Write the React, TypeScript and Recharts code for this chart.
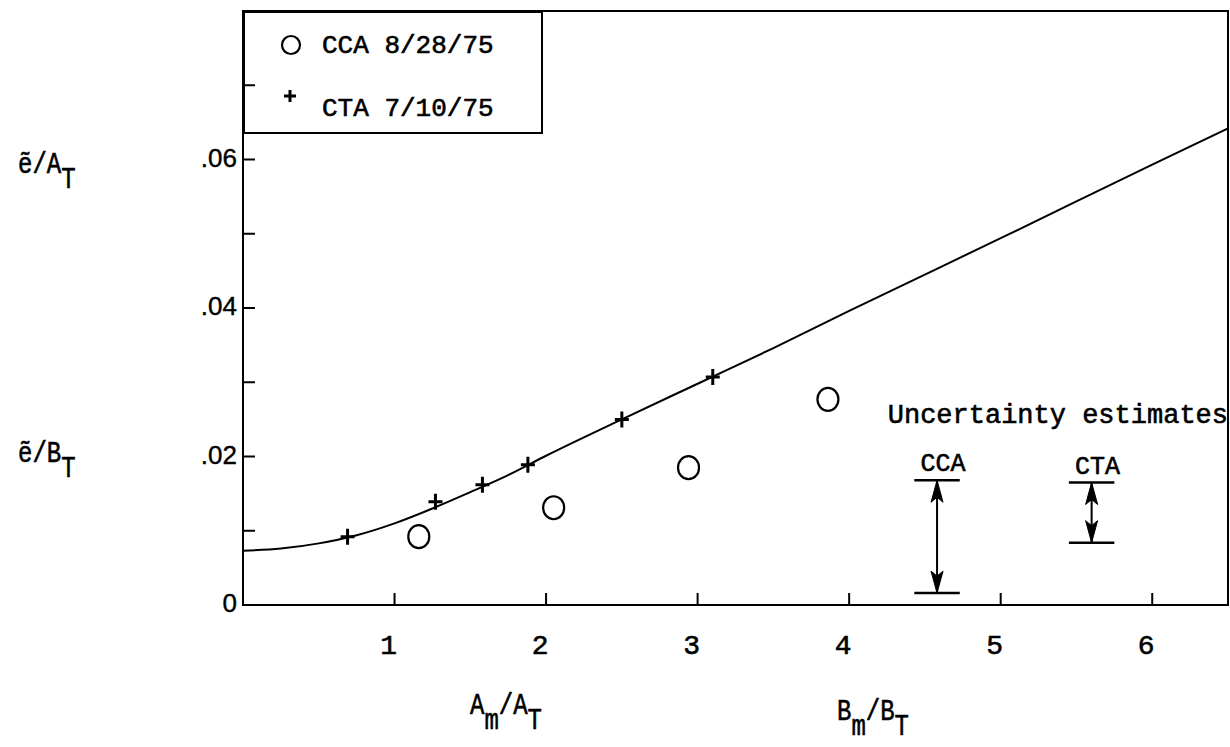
import React from 'react';
import {
  ComposedChart,
  Line,
  Scatter,
  XAxis,
  YAxis,
  ReferenceLine,
  ReferenceArea,
  ReferenceDot,
  Legend,
} from 'recharts';

// ---- data ----
const curveX = [0, 0.25, 0.5, 0.75, 1.0, 1.25, 1.5, 1.75, 2.0, 2.5, 3.0, 3.5, 4.0, 5.0, 6.0, 6.5];
const curveY = [0.0073, 0.0076, 0.0083, 0.0094, 0.011, 0.013, 0.0152, 0.0175, 0.0201, 0.025, 0.0298, 0.0346, 0.0396, 0.0494, 0.0593, 0.0642];

const ctaX = [0.69, 1.27, 1.58, 1.88, 2.5, 3.1];
const ctaY = [0.0092, 0.0139, 0.0162, 0.0189, 0.025, 0.0307];

const ccaX = [1.16, 2.05, 2.94, 3.86];
const ccaY = [0.0092, 0.0131, 0.0185, 0.0277];

const legendLabels = ['CCA 8/28/75', 'CTA 7/10/75'];

const xTicks = [1, 2, 3, 4, 5, 6];
const yTicks = [0, 0.01, 0.02, 0.03, 0.04, 0.05, 0.06, 0.07, 0.08];
const yTickLabels = ['0', '', '.02', '', '.04', '', '.06', '', ''];

// uncertainty estimates
const uncNames = ['CCA', 'CTA'];
const uncX = [4.58, 5.6];
const uncTop = [0.0168, 0.0165];
const uncBottom = [0.0016, 0.0084];
const uncHalfWidth = 0.15;
const uncTitle = 'Uncertainty estimates';

const curveData = curveX.map((x, i) => ({ x, y: curveY[i] }));
const ctaData = ctaX.map((x, i) => ({ x, y: ctaY[i] }));
const ccaData = ccaX.map((x, i) => ({ x, y: ccaY[i] }));
const arrowData = uncX.flatMap((x, i) => [
  { x, y: uncTop[i], dir: 1 },
  { x, y: uncBottom[i], dir: -1 },
]);

const MONO = '"Liberation Mono", "DejaVu Sans Mono", monospace';
const SANS = '"Liberation Sans", Arial, sans-serif';
const INK = { fill: '#000', stroke: '#000', strokeWidth: 0.6 };

const CircleShape = (p: any) => (
  <ellipse cx={p.cx} cy={p.cy} rx={10.5} ry={11.5} fill="none" stroke="#000" strokeWidth={2.2} />
);
const PlusShape = (p: any) => (
  <path
    d={`M${p.cx - 7},${p.cy} H${p.cx + 7} M${p.cx},${p.cy - 8} V${p.cy + 8}`}
    stroke="#000"
    strokeWidth={3}
    fill="none"
  />
);
const ArrowShape = (p: any) => {
  const d = p.payload.dir;
  const { cx, cy } = p;
  return (
    <path
      d={`M${cx},${cy} L${cx - 6},${cy + d * 22} L${cx},${cy + d * 17} L${cx + 6},${cy + d * 22} Z`}
      fill="#000"
      stroke="#000"
      strokeWidth={1}
    />
  );
};

const YTick = (p: any) => {
  const { x, y, index } = p;
  const label = yTickLabels[index];
  const showLine = index > 0 && index < yTicks.length - 1;
  return (
    <g>
      {showLine && <line x1={x} x2={x + 12} y1={y} y2={y} stroke="#000" strokeWidth={2} />}
      {label && (
        <text x={x - 6} y={y + 7} textAnchor="end" fontFamily={SANS} fontSize={26} {...INK} strokeWidth={0.4}>
          {label}
        </text>
      )}
    </g>
  );
};

const XTick = (p: any) => {
  const { x, y, payload } = p;
  return (
    <g>
      <line x1={x} x2={x} y1={y} y2={y - 12} stroke="#000" strokeWidth={2} />
      <text x={x - 6} y={y + 49} textAnchor="middle" fontFamily={MONO} fontSize={28} {...INK}>
        {String(payload.value)}
      </text>
    </g>
  );
};

const LegendBox = () => (
  <svg width={300} height={123} style={{ display: 'block' }}>
    <rect x={1} y={1} width={298} height={121} fill="none" stroke="#000" strokeWidth={2} />
    <circle cx={48} cy={34} r={9} fill="none" stroke="#000" strokeWidth={2.2} />
    <text x={79} y={42} fontFamily={MONO} fontSize={26} {...INK}>
      {legendLabels[0]}
    </text>
    <path d="M41,85 H53 M47,79 V91" stroke="#000" strokeWidth={3} />
    <text x={79} y={105} fontFamily={MONO} fontSize={26} {...INK}>
      {legendLabels[1]}
    </text>
  </svg>
);

const TextShape = (txt: string, size: number, anchor: string, dx = 0) => (p: any) => (
  <text x={p.cx + dx} y={p.cy} textAnchor={anchor} fontFamily={MONO} fontSize={size} {...INK}>
    {txt}
  </text>
);

const Title = ({ x, y, main1, sub1, main2, sub2 }: any) => (
  <text transform={`translate(${x},${y}) scale(0.8,1)`} fontFamily={MONO} fontSize={30} {...INK}>
    {main1}
    {sub1 ? <tspan dy={15}>{sub1}</tspan> : null}
    {main2 ? <tspan dy={sub1 ? -15 : 0}>{main2}</tspan> : null}
    {sub2 ? <tspan dy={15}>{sub2}</tspan> : null}
  </text>
);

export default function App() {
  return (
    <div style={{ position: 'absolute', left: 0, top: 0, width: 1230, height: 747, background: '#fff' }}>
      <ComposedChart
        width={1230}
        height={747}
        margin={{ top: 11, right: 2, left: 0, bottom: 0 }}
      >
        <XAxis
          type="number"
          dataKey="x"
          domain={[0, 6.5]}
          ticks={xTicks}
          height={142}
          tickSize={0}
          tickMargin={0}
          tickLine={false}
          axisLine={{ stroke: '#000', strokeWidth: 2 }}
          tick={<XTick />}
          allowDataOverflow
        />
        <YAxis
          type="number"
          dataKey="y"
          domain={[0, 0.08]}
          ticks={yTicks}
          width={243}
          tickSize={0}
          tickMargin={0}
          tickLine={false}
          axisLine={{ stroke: '#000', strokeWidth: 2 }}
          tick={<YTick />}
          interval={0}
          allowDataOverflow
        />
        <ReferenceArea x1={0} x2={6.5} y1={0} y2={0.08} fill="none" stroke="#000" strokeWidth={2} fillOpacity={0} />
        <Line
          data={curveData}
          dataKey="y"
          type="monotone"
          stroke="#000"
          strokeWidth={2}
          dot={false}
          isAnimationActive={false}
          legendType="none"
        />
        <Scatter data={ctaData} dataKey="y" shape={<PlusShape />} isAnimationActive={false} name="CTA" />
        <Scatter data={ccaData} dataKey="y" shape={<CircleShape />} isAnimationActive={false} name="CCA" />
        {uncX.map((x, i) => (
          <ReferenceLine
            key={'t' + i}
            segment={[
              { x: x - uncHalfWidth, y: uncTop[i] },
              { x: x + uncHalfWidth, y: uncTop[i] },
            ]}
            stroke="#000"
            strokeWidth={2.5}
          />
        ))}
        {uncX.map((x, i) => (
          <ReferenceLine
            key={'b' + i}
            segment={[
              { x: x - uncHalfWidth, y: uncBottom[i] },
              { x: x + uncHalfWidth, y: uncBottom[i] },
            ]}
            stroke="#000"
            strokeWidth={2.5}
          />
        ))}
        {uncX.map((x, i) => (
          <ReferenceLine
            key={'v' + i}
            segment={[
              { x, y: uncTop[i] },
              { x, y: uncBottom[i] },
            ]}
            stroke="#000"
            strokeWidth={2}
          />
        ))}
        <Scatter data={arrowData} dataKey="y" shape={<ArrowShape />} isAnimationActive={false} legendType="none" />
        {uncX.map((x, i) => (
          <ReferenceDot
            key={'n' + i}
            x={x}
            y={uncTop[i] + 0.0012}
            r={0}
            shape={TextShape(uncNames[i], 25, 'middle', 6)}
          />
        ))}
        <ReferenceDot x={6.5} y={0.0245} r={0} shape={TextShape(uncTitle, 27, 'end')} />
        <Legend
          layout="horizontal"
          verticalAlign="middle"
          align="center"
          content={() => <LegendBox />}
          wrapperStyle={{ left: 243, top: 11, width: 300, height: 123 }}
        />
      </ComposedChart>
      <svg
        width={1230}
        height={747}
        style={{ position: 'absolute', left: 0, top: 0, pointerEvents: 'none' }}
      >
        <Title x={18} y={173} main1="ẽ/A" sub1="T" />
        <Title x={18} y={462} main1="ẽ/B" sub1="T" />
        <Title x={470} y={714} main1="A" sub1="m" main2="/A" sub2="T" />
        <Title x={837} y={720} main1="B" sub1="m" main2="/B" sub2="T" />
      </svg>
    </div>
  );
}
